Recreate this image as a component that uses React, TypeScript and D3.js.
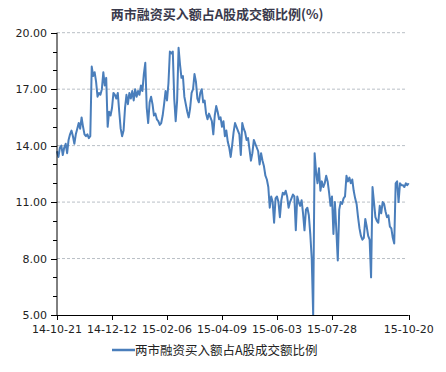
import * as d3 from "d3";

const titulo = "两市融资买入额占A股成交额比例(%)";
const nombreSerie = "两市融资买入额占A股成交额比例";

// etiquetas del eje x y su posición (índice del día de negociación)
const etiquetasX = ["14-10-21", "14-12-12", "15-02-06", "15-04-09", "15-06-03", "15-07-28", "15-10-20"];
const indicesX = [0, 38, 76, 114, 152, 190, 243];

const ticksY = [5, 8, 11, 14, 17, 20];

// ratio diario (%)
const valores = [
  13.7, 13.4, 13.9, 14.0, 13.5, 13.9, 14.1, 13.6, 14.3, 14.6,
  14.8, 14.5, 14.1, 14.6, 14.9, 15.2, 14.9, 15.5, 15.0, 14.6,
  14.5, 14.6, 14.4, 14.5, 18.2, 17.7, 17.9, 17.4, 16.6, 16.8,
  16.7, 17.0, 17.9, 17.2, 17.6, 15.0, 15.8, 15.6, 16.0, 16.8,
  16.7, 16.5, 16.8, 15.8, 14.9, 14.5, 14.8, 16.0, 16.7, 16.2,
  16.8, 16.5, 16.9, 16.4, 17.0, 16.6, 16.9, 16.7, 17.2, 16.9,
  17.8, 18.4, 16.0, 15.2, 16.3, 16.6, 16.2, 15.6, 15.7, 15.4,
  15.3, 15.1, 15.2, 15.6, 16.2, 16.9, 16.4, 17.3, 19.0, 18.9,
  19.0, 16.5, 15.3, 16.4, 19.2, 18.3, 17.6, 17.7, 16.6, 16.2,
  15.8, 15.5, 16.0, 16.8, 17.0, 17.8, 17.4, 16.5, 16.3, 16.8,
  17.0, 16.3, 16.4, 15.7, 15.4, 15.7, 15.5, 15.3, 14.6, 15.6,
  16.1, 15.8, 15.4, 15.5, 15.0, 15.3, 14.5, 14.8, 14.2, 13.9,
  13.4, 14.0, 14.7, 15.2, 15.0, 14.8, 14.6, 13.5, 15.2, 14.9,
  14.7, 14.3, 14.4, 13.8, 13.2, 13.6, 14.3, 14.1, 13.9, 13.7,
  13.0, 13.6, 13.2, 12.9, 12.4, 12.2, 11.8, 10.7, 11.3, 11.0,
  9.9, 11.2, 11.3, 11.0, 10.2, 11.1, 11.5, 11.4, 11.6, 11.3,
  10.7, 11.0, 11.2, 11.4, 11.3, 9.5, 11.3, 11.0, 10.8, 11.1,
  10.4, 9.5, 10.6, 10.7, 10.3, 9.3, 8.0, 5.0, 13.6, 12.6,
  12.0, 12.8, 11.6, 12.1, 11.8, 12.0, 12.4, 12.1, 11.5, 10.8,
  11.3, 9.3, 11.0, 9.5, 7.9, 10.6, 11.0, 10.9, 11.2, 11.3,
  12.4, 12.1, 12.3, 12.0, 12.2, 11.6, 11.2, 10.9, 10.2, 9.6,
  9.2, 9.0, 9.1, 10.1, 9.7, 9.2, 9.0, 7.0, 11.8, 11.0,
  10.2, 10.0, 9.9, 10.8, 10.4, 11.0, 10.9, 10.5, 10.2, 10.3,
  9.7, 9.6, 9.1, 8.8, 12.0, 12.1, 11.0, 12.0, 11.9, 11.9,
  11.8, 12.0, 11.9, 12.0,
];

const ANCHO = 446;
const ALTO = 372;
const izq = 57;
const der = 408.7;
const arriba = 32.7;
const abajo = 315;
const colorLinea = "#4a7ebb";
const fuente = "'DejaVu Sans', Verdana, sans-serif";

export default function App() {
  const x = d3.scaleLinear().domain([0, valores.length - 1]).range([izq, der]);
  const y = d3.scaleLinear().domain([5, 20]).range([abajo, arriba]);
  const linea = d3
    .line<number>()
    .x((_, i) => x(i))
    .y((d) => y(d));
  const menores = d3.range(5, 21, 1);

  return (
    <svg
      width={ANCHO}
      height={ALTO}
      viewBox={`0 0 ${ANCHO} ${ALTO}`}
      style={{ position: "absolute", left: 0, top: 0, background: "#fff" }}
    >
      <text
        x={217}
        y={19}
        textAnchor="middle"
        fontFamily="'Noto Sans CJK SC', sans-serif"
        fontWeight="bold"
        fontSize={13}
        fill="#3a3a4c"
      >
        {titulo}
      </text>

      {/* rejilla */}
      {ticksY.filter((t) => t > 5).map((t) => (
        <line
          key={"g" + t}
          x1={izq}
          x2={407}
          y1={y(t)}
          y2={y(t)}
          stroke="#b9bfc6"
          strokeWidth={1}
          strokeDasharray="3,2"
        />
      ))}

      {/* serie */}
      <path d={linea(valores) || ""} fill="none" stroke={colorLinea} strokeWidth={2} strokeLinejoin="round" />

      {/* eje y */}
      <line x1={izq} x2={izq} y1={arriba} y2={abajo} stroke="#000" />
      {menores.map((t) => (
        <line
          key={"m" + t}
          x1={ticksY.includes(t) ? izq - 6 : izq - 4}
          x2={izq}
          y1={Math.round(y(t)) + 0.5}
          y2={Math.round(y(t)) + 0.5}
          stroke="#000"
        />
      ))}
      {ticksY.map((t) => (
        <text
          key={"ty" + t}
          x={47}
          y={y(t) + 4}
          textAnchor="end"
          fontFamily={fuente}
          fontSize={11}
          fill="#222"
        >
          {t.toFixed(2)}
        </text>
      ))}

      {/* eje x */}
      <line x1={izq} x2={der} y1={abajo + 0.5} y2={abajo + 0.5} stroke="#000" />
      {indicesX.map((idx, k) => (
        <g key={"tx" + idx}>
          <line
            x1={Math.round(x(idx)) + 0.5}
            x2={Math.round(x(idx)) + 0.5}
            y1={abajo}
            y2={abajo + 5}
            stroke="#000"
          />
          <text
            x={x(idx)}
            y={333}
            textAnchor="middle"
            fontFamily={fuente}
            fontSize={11}
            fill="#222"
          >
            {etiquetasX[k]}
          </text>
        </g>
      ))}

      {/* leyenda */}
      <line x1={112} x2={135} y1={350} y2={350} stroke={colorLinea} strokeWidth={2.5} />
      <text
        x={135}
        y={355}
        fontFamily="'Noto Sans CJK SC', sans-serif"
        fontSize={12.5}
        fill="#222"
      >
        {nombreSerie}
      </text>
    </svg>
  );
}
